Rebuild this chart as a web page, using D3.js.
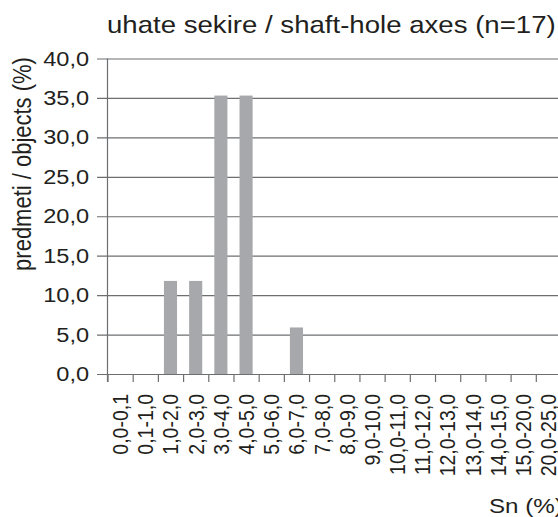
<!doctype html>
<html lang="en">
<head>
  <script src="https://d3js.org/d3.v7.min.js"></script>
  <style>
    body { margin: 0px; background: #fff; }
    text { font-family: "Liberation Sans", Arial, sans-serif; fill: #231f20; }
  </style>
</head>
<body>
  <div id="container"></div>
  <script>
    // data
    var categories = ["0,0-0,1", "0,1-1,0", "1,0-2,0", "2,0-3,0", "3,0-4,0", "4,0-5,0",
      "5,0-6,0", "6,0-7,0", "7,0-8,0", "8,0-9,0", "9,0-10,0", "10,0-11,0", "11,0-12,0",
      "12,0-13,0", "13,0-14,0", "14,0-15,0", "15,0-20,0", "20,0-25,0"];
    var percents = [0, 0, 11.8, 11.8, 35.3, 35.3, 0, 5.9, 0, 0, 0, 0, 0, 0, 0, 0, 0, 0];
    var yTicks = [0, 5, 10, 15, 20, 25, 30, 35, 40];

    var W = 558, H = 517;
    var sx = 1.15; // text in the source is stretched horizontally

    var svg = d3.select('#container').append('svg')
      .attr('width', W)
      .attr('height', H);

    var x = d3.scaleBand()
      .domain(categories)
      .range([107.5, 561])
      .paddingInner(0.48)
      .paddingOuter(0.24);

    var xEdge = d3.scaleLinear()
      .domain([0, categories.length])
      .range([107.5, 561]);

    var y = d3.scaleLinear()
      .domain([0, 40])
      .range([374, 58.5]);

    // gridlines
    svg.append("g")
      .attr("transform", "translate(97,0)")
      .call(d3.axisLeft(y).tickValues(yTicks).tickSize(-480).tickFormat(""))
      .call(function (g) {
        g.select(".domain").remove();
        g.selectAll("line").attr("stroke", "#6d6e70").attr("stroke-width", 1.2);
      });

    // bars
    svg.append("g")
      .selectAll("rect")
      .data(percents)
      .enter()
      .append("rect")
        .attr("x", function (d, i) { return x(categories[i]); })
        .attr("y", function (d) { return y(d); })
        .attr("width", x.bandwidth())
        .attr("height", function (d) { return y(0) - y(d); })
        .attr("fill", "#a7a8ab");

    // y axis
    svg.append("g")
      .attr("transform", "translate(107.5,0)")
      .call(d3.axisLeft(y).tickValues(yTicks).tickSize(0).tickPadding(16)
        .tickFormat(function (d) { return d3.format(".1f")(d).replace(".", ","); }))
      .call(function (g) {
        g.select(".domain").attr("stroke", "#6d6e70").attr("stroke-width", 1.2)
          .attr("d", "M0," + y(40) + "V382");
        g.selectAll("text")
          .style("font-size", "20.5px")
          .attr("transform", "scale(" + sx + ",1)");
      });

    // x axis tick marks at category edges
    svg.append("g")
      .attr("transform", "translate(0,374)")
      .call(d3.axisBottom(xEdge).tickValues(d3.range(0, categories.length + 1)).tickSize(8).tickFormat(""))
      .call(function (g) {
        g.select(".domain").remove();
        g.selectAll("line").attr("stroke", "#6d6e70").attr("stroke-width", 1.2);
      });

    // x axis labels
    svg.append("g")
      .attr("transform", "translate(0,374)")
      .call(d3.axisBottom(x).tickSize(0))
      .call(function (g) {
        g.select(".domain").remove();
        g.selectAll("text")
          .style("font-size", "19.5px")
          .style("text-anchor", "end")
          .attr("y", 0)
          .attr("x", -20)
          .attr("dy", "0.35em")
          .attr("transform", "rotate(-90) scale(1," + sx + ")");
      });

    // title
    svg.append("text")
      .attr("transform", "translate(107,33) scale(" + sx + ",1)")
      .style("font-size", "24px")
      .text("uhate sekire / shaft-hole axes (n=17)");

    // y title
    svg.append("text")
      .attr("transform", "translate(31,164) rotate(-90) scale(1," + sx + ")")
      .style("text-anchor", "middle")
      .style("font-size", "22px")
      .text("predmeti / objects (%)");

    // x title
    svg.append("text")
      .attr("transform", "translate(489,513) scale(" + sx + ",1)")
      .style("font-size", "21px")
      .text("Sn (%)");
  </script>
</body>
</html>
